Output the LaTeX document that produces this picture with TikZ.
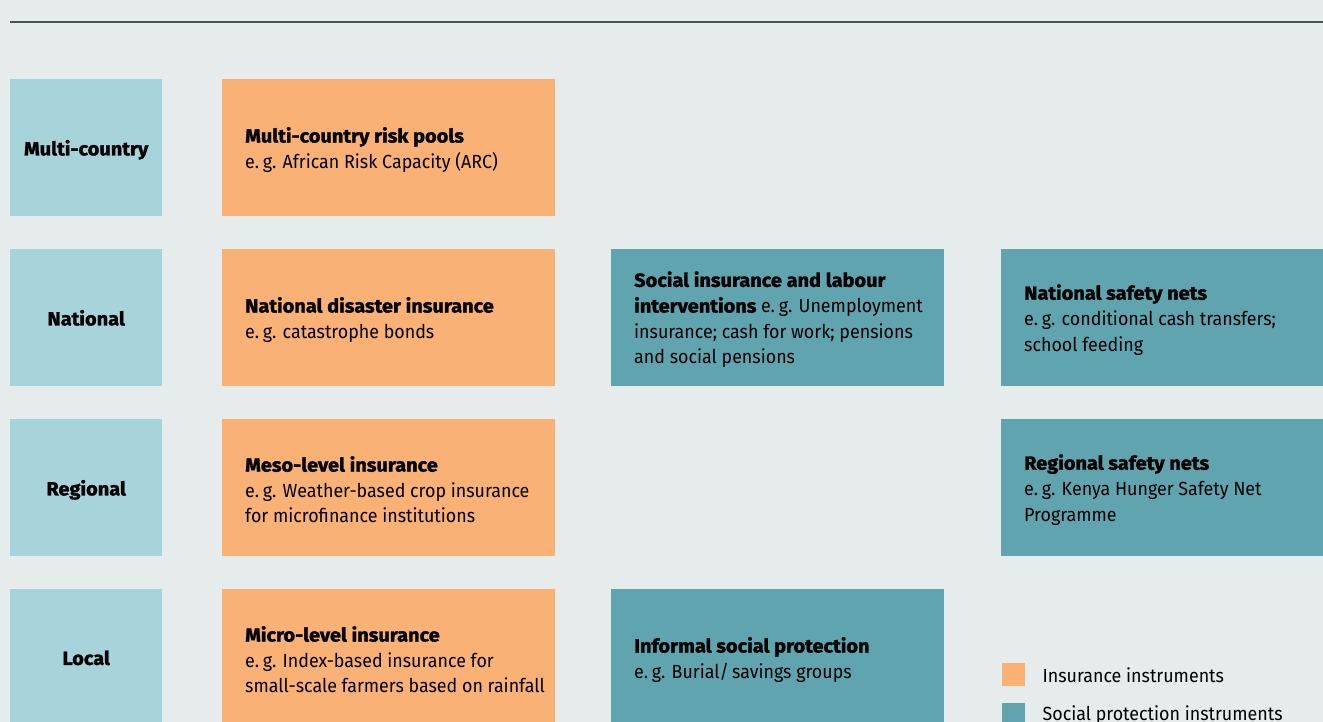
\documentclass[tikz,border=0pt]{standalone}
\usepackage{fontspec}
\setmainfont{Fira Sans}[UprightFeatures={FakeStretch=0.94}, BoldFeatures={FakeStretch=1.05, FakeBold=1.5}]
\definecolor{bg}{HTML}{E6EBEB}
\definecolor{rule}{HTML}{44574F}
\definecolor{lvl}{HTML}{A6D4DA}
\definecolor{ins}{HTML}{F9B175}
\definecolor{soc}{HTML}{5FA4AE}
\newcommand{\eg}{e.\hspace{0.2em}g.}
\tikzset{
  base/.style={draw=none, inner sep=0pt, minimum height=137pt, anchor=north west},
  lvlbox/.style={base, fill=lvl, minimum width=152pt, text depth=-2pt, font=\fontsize{19}{25.7}\selectfont\bfseries},
  insbox/.style={base, fill=ins, minimum width=333pt},
  socbox/.style={base, fill=soc, minimum width=333pt},
  txt/.style={anchor=west, align=left, inner sep=0pt, font=\fontsize{19}{25.7}\selectfont},
  key/.style={inner sep=0pt, minimum size=23pt, anchor=north west},
}
\begin{document}
\begin{tikzpicture}[x=1pt,y=-1pt]
\useasboundingbox (0,0) rectangle (1323,722);
\clip (0,0) rectangle (1323,722);
\fill[bg] (0,0) rectangle (1323,722);
\coordinate (r0) at (10,22);
\coordinate (r1) at (1323,22);
\draw[rule, line width=1.4pt] (r0) -- (r1);

% level labels
\node[lvlbox] (l1) at (10,79) {Multi-country};
\node[lvlbox] (l2) at (10,249) {National};
\node[lvlbox] (l3) at (10,419) {Regional};
\node[lvlbox] (l4) at (10,589) {Local};

% insurance column
\node[insbox] (i1) at (222,79) {};
\node[txt] (i1t) at ([xshift=23pt,yshift=-2pt]i1.west) {\textbf{Multi-country risk pools}\\\eg{} African Risk Capacity (ARC)};
\node[insbox] (i2) at (222,249) {};
\node[txt] (i2t) at ([xshift=23pt,yshift=-2pt]i2.west) {\textbf{National disaster insurance}\\\eg{} catastrophe bonds};
\node[insbox] (i3) at (222,419) {};
\node[txt] (i3t) at ([xshift=23pt,yshift=-2pt]i3.west) {\textbf{Meso-level insurance}\\\eg{} Weather-based crop insurance\\for microfinance institutions};
\node[insbox] (i4) at (222,589) {};
\node[txt] (i4t) at ([xshift=23pt,yshift=-2pt]i4.west) {\textbf{Micro-level insurance}\\\eg{} Index-based insurance for\\small-scale farmers based on rainfall};

% social protection column 2
\node[socbox] (s2) at (611,249) {};
\node[txt] (s2t) at ([xshift=23pt,yshift=-2pt]s2.west) {\textbf{Social insurance and labour}\\\textbf{interventions} \eg{} Unemployment\\insurance; cash for work; pensions\\and social pensions};
\node[socbox] (s4) at (611,589) {};
\node[txt] (s4t) at ([xshift=23pt,yshift=-2pt]s4.west) {\textbf{Informal social protection}\\\eg{} Burial/\,savings groups};

% social protection column 3
\node[socbox] (n2) at (1001,249) {};
\node[txt] (n2t) at ([xshift=23pt,yshift=-2pt]n2.west) {\textbf{National safety nets}\\\eg{} conditional cash transfers;\\school feeding};
\node[socbox] (n3) at (1001,419) {};
\node[txt] (n3t) at ([xshift=23pt,yshift=-2pt]n3.west) {\textbf{Regional safety nets}\\\eg{} Kenya Hunger Safety Net\\Programme};

% legend
\node[key, fill=ins] (k1) at (1002,663) {};
\node[txt] (k1t) at ([xshift=17pt]k1.east) {Insurance instruments};
\node[key, fill=soc] (k2) at (1002,703) {};
\node[txt] (k2t) at ([xshift=17pt]k2.east) {Social protection instruments};
\end{tikzpicture}
\end{document}
